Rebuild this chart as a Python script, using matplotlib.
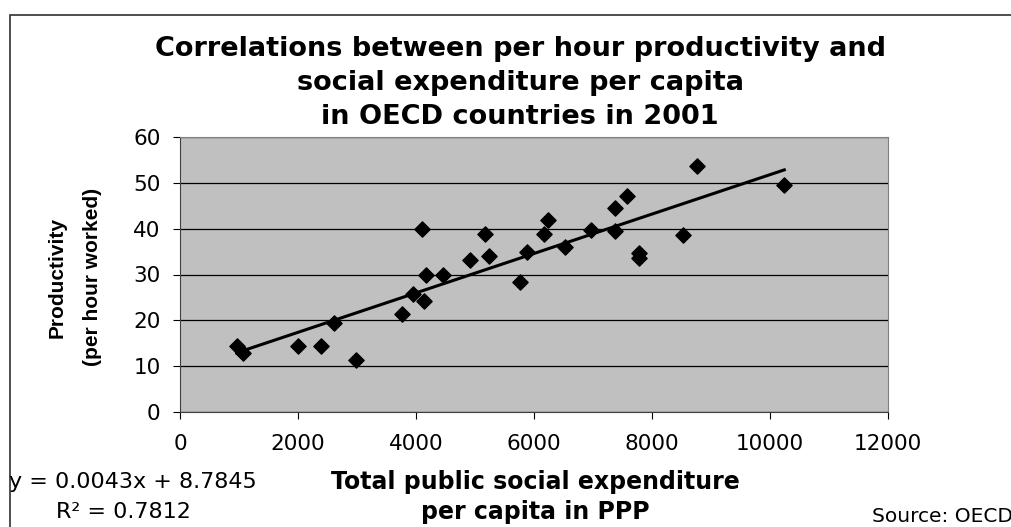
import matplotlib.pyplot as plt
from matplotlib.patches import Rectangle

plt.rcParams['font.family'] = ['DejaVu Sans']

# Social expenditure per capita (PPP) vs productivity per hour worked, OECD 2001
spending = [961, 1073, 2005, 2384, 2610, 2978, 3757, 3944, 4096, 4136, 4169, 4463,
            4915, 5169, 5243, 5763, 5876, 6175, 6243, 6525, 6966, 7373, 7373, 7571,
            7785, 7785, 8531, 8757, 10242]
productivity = [14.3, 12.9, 14.3, 14.3, 19.4, 11.4, 21.4, 25.8, 40.0, 24.3, 29.8, 29.8,
                33.1, 38.9, 34.1, 28.3, 35.0, 38.9, 42.0, 36.0, 39.8, 39.4, 44.5, 47.1,
                34.6, 33.5, 38.6, 53.6, 49.6]
slope, intercept = 0.0043, 8.7845
x_ticks = [0, 2000, 4000, 6000, 8000, 10000, 12000]
y_ticks = [0, 10, 20, 30, 40, 50, 60]
title_lines = ['Correlations between per hour productivity and',
               'social expenditure per capita',
               'in OECD countries in 2001']

W, H = 1012, 527
fig = plt.figure(figsize=(W / 100, H / 100), dpi=100)
ax = fig.add_axes([180 / W, 1 - 412 / H, 708 / W, 275 / H])
ax.set_facecolor('#c0c0c0')

ax.scatter(spending, productivity, marker='D', s=60, color='black', zorder=3)
x_fit = [min(spending), max(spending)]
ax.plot(x_fit, [slope * v + intercept for v in x_fit], color='black', lw=2.2, zorder=4)

ax.set_xlim(0, 12000)
ax.set_ylim(0, 60)
ax.set_xticks(x_ticks)
ax.set_yticks(y_ticks)
ax.tick_params(direction='out', length=5, labelsize=15.5, color='black')
ax.tick_params(axis='x', pad=11)
ax.tick_params(axis='y', pad=9)
ax.yaxis.grid(True, color='black', lw=0.9)
ax.set_axisbelow(True)
for side in ['top', 'right']:
    ax.spines[side].set_color('#808080')
for side in ['left', 'bottom']:
    ax.spines[side].set_color('#404040')

for line, y in zip(title_lines, [49, 83, 117]):
    fig.text(0.514, 1 - y / H, line, ha='center', va='center',
             fontsize=19.5, fontweight='bold')

fig.text(57 / W, 1 - 277 / H, 'Productivity', rotation=90, ha='center', va='center',
         fontsize=15, fontweight='bold', family='Liberation Sans')
fig.text(93 / W, 1 - 277 / H, '(per hour worked)', rotation=90, ha='center', va='center',
         fontsize=15, fontweight='bold', family='Liberation Sans')

fig.text(535 / W, 1 - 482 / H, 'Total public social expenditure', ha='center',
         va='center', fontsize=17, fontweight='bold')
fig.text(535 / W, 1 - 512 / H, 'per capita in PPP', ha='center',
         va='center', fontsize=17, fontweight='bold')

fig.text(9 / W, 1 - 482 / H, 'y = 0.0043x + 8.7845', ha='left', va='center', fontsize=16)
fig.text(123 / W, 1 - 512 / H, 'R² = 0.7812', ha='center', va='center', fontsize=16)
fig.text(872 / W, 1 - 517 / H, 'Source: OECD', ha='left', va='center', fontsize=14.5)

fig.patches.append(Rectangle((10 / W, -0.1), 1.2, 1.1 - 15 / H,
                             transform=fig.transFigure, fill=False,
                             edgecolor='#303030', lw=1.2))

fig.savefig('out.png', dpi=100)
